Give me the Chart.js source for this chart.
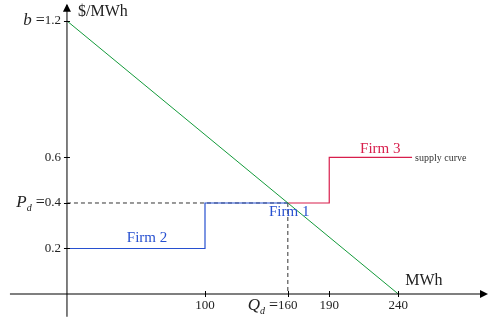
<!DOCTYPE html>
<html>
<head>
<meta charset="utf-8">
<script src="https://cdn.jsdelivr.net/npm/chart.js@4"></script>
<style>
  html, body { margin: 0; padding: 0; background: #fff; }
  #wrap { width: 488px; height: 322px; }
</style>
</head>
<body>
<div id="wrap"><canvas id="chart"></canvas></div>
<script>
// demand line and supply steps (MWh, $/MWh)
const demandQ = [0, 240];
const demandP = [1.2, 0];
const firm2Q = [0, 100, 100, 160];
const firm2P = [0.2, 0.2, 0.4, 0.4];
const firm3Q = [160, 190, 190, 250];
const firm3P = [0.4, 0.4, 0.6, 0.6];
const Qd = 160;
const Pd = 0.4;
const xTicks = [100, 160, 190, 240];
const xTickLabels = ["100", "160", "190", "240"];
const yTicks = [0.2, 0.4, 0.6, 1.2];
const yTickLabels = ["0.2", "0.4", "0.6", "1.2"];

const toPts = (xs, ys) => xs.map((x, i) => ({ x: x, y: ys[i] }));

const serif = '"Liberation Serif", "DejaVu Serif", serif';

const overlay = {
    id: 'overlay',
    afterDatasetsDraw(chart) {
        const ctx = chart.ctx;
        const xs = chart.scales.x, ys = chart.scales.y;
        const x0 = xs.getPixelForValue(0), y0 = ys.getPixelForValue(0);
        ctx.save();

        // arrowheads
        ctx.fillStyle = '#000';
        const xEnd = xs.getPixelForValue(xs.max);
        ctx.beginPath();
        ctx.moveTo(xEnd, y0);
        ctx.lineTo(xEnd - 8, y0 - 4);
        ctx.lineTo(xEnd - 8, y0 + 4);
        ctx.closePath();
        ctx.fill();
        const yTop = ys.getPixelForValue(1.275);
        ctx.beginPath();
        ctx.moveTo(x0, yTop);
        ctx.lineTo(x0 - 4, yTop + 8);
        ctx.lineTo(x0 + 4, yTop + 8);
        ctx.closePath();
        ctx.fill();

        // tick marks
        ctx.strokeStyle = '#000';
        ctx.lineWidth = 1;
        xTicks.forEach(v => {
            const px = Math.round(xs.getPixelForValue(v)) + 0.5;
            ctx.beginPath(); ctx.moveTo(px, y0 - 3); ctx.lineTo(px, y0 + 3); ctx.stroke();
        });
        yTicks.forEach(v => {
            const py = Math.round(ys.getPixelForValue(v)) + 0.5;
            ctx.beginPath(); ctx.moveTo(x0 - 3, py); ctx.lineTo(x0 + 3, py); ctx.stroke();
        });

        // tick labels
        ctx.fillStyle = '#222';
        ctx.font = '13px ' + serif;
        ctx.textAlign = 'center';
        ctx.textBaseline = 'middle';
        xTicks.forEach((v, i) => {
            ctx.fillText(xTickLabels[i], xs.getPixelForValue(v), y0 + 12);
        });
        ctx.textAlign = 'right';
        yTicks.forEach((v, i) => {
            ctx.fillText(yTickLabels[i], x0 - 6, ys.getPixelForValue(v));
        });

        // symbolic prefixes
        const prefix = (main, sub, rightX, y) => {
            ctx.textAlign = 'right';
            ctx.font = '16px ' + serif;
            ctx.fillText('=', rightX, y);
            let cx = rightX - ctx.measureText('=').width - 4;
            if (sub) {
                ctx.font = 'italic 10px ' + serif;
                ctx.fillText(sub, cx, y + 5);
                cx -= ctx.measureText(sub).width;
            }
            ctx.font = 'italic 17px ' + serif;
            ctx.fillText(main, cx, y);
        };
        ctx.font = '13px ' + serif;
        const w12 = ctx.measureText('1.2').width;
        const w04 = ctx.measureText('0.4').width;
        const w160 = ctx.measureText('160').width;
        prefix('b', '', x0 - 6 - w12, ys.getPixelForValue(1.2));
        prefix('P', 'd', x0 - 6 - w04, ys.getPixelForValue(Pd));
        prefix('Q', 'd', xs.getPixelForValue(Qd) - w160 / 2, y0 + 12);

        // axis titles
        ctx.fillStyle = '#222';
        ctx.textAlign = 'left';
        ctx.font = '16px ' + serif;
        ctx.fillText('$/MWh', x0 + 11, 12);
        ctx.fillText('MWh', xs.getPixelForValue(245), y0 - 13);

        // firm labels
        ctx.textAlign = 'center';
        ctx.font = '15px ' + serif;
        ctx.fillStyle = '#2750d0';
        ctx.fillText('Firm 2', xs.getPixelForValue(58), ys.getPixelForValue(0.245));
        ctx.fillText('Firm 1', xs.getPixelForValue(161), ys.getPixelForValue(0.362));
        ctx.fillStyle = '#d81e4c';
        ctx.fillText('Firm 3', xs.getPixelForValue(227), ys.getPixelForValue(0.635));
        ctx.fillStyle = '#333';
        ctx.textAlign = 'left';
        ctx.font = '10px ' + serif;
        ctx.fillText('supply curve', xs.getPixelForValue(250) + 3, ys.getPixelForValue(0.6) + 1);

        ctx.restore();
    }
};

new Chart(document.getElementById('chart'), {
    type: 'line',
    data: {
        datasets: [
            { data: [{ x: -41.3, y: 0 }, { x: 300, y: 0 }], borderColor: '#000', borderWidth: 1.2 },
            { data: [{ x: 0, y: -0.1 }, { x: 0, y: 1.27 }], borderColor: '#555', borderWidth: 1.5 },
            { data: toPts(demandQ, demandP), borderColor: '#139a3a', borderWidth: 1 },
            { data: toPts(firm2Q, firm2P), borderColor: '#2750d0', borderWidth: 1.2 },
            { data: toPts(firm3Q, firm3P), borderColor: '#d81e4c', borderWidth: 1.2 },
            { data: [{ x: 0, y: Pd }, { x: Qd, y: Pd }], borderColor: '#333', borderWidth: 1, borderDash: [4, 3] },
            { data: [{ x: Qd, y: Pd }, { x: Qd, y: 0 }], borderColor: '#333', borderWidth: 1, borderDash: [4, 3] }
        ]
    },
    options: {
        responsive: true,
        maintainAspectRatio: false,
        animation: false,
        layout: { padding: 0 },
        elements: { point: { radius: 0 }, line: { tension: 0 } },
        plugins: { legend: { display: false }, tooltip: { enabled: false } },
        scales: {
            x: { type: 'linear', min: -48.5, max: 305, display: false },
            y: { type: 'linear', min: -0.123, max: 1.292, display: false }
        }
    },
    plugins: [overlay]
});
</script>
</body>
</html>
